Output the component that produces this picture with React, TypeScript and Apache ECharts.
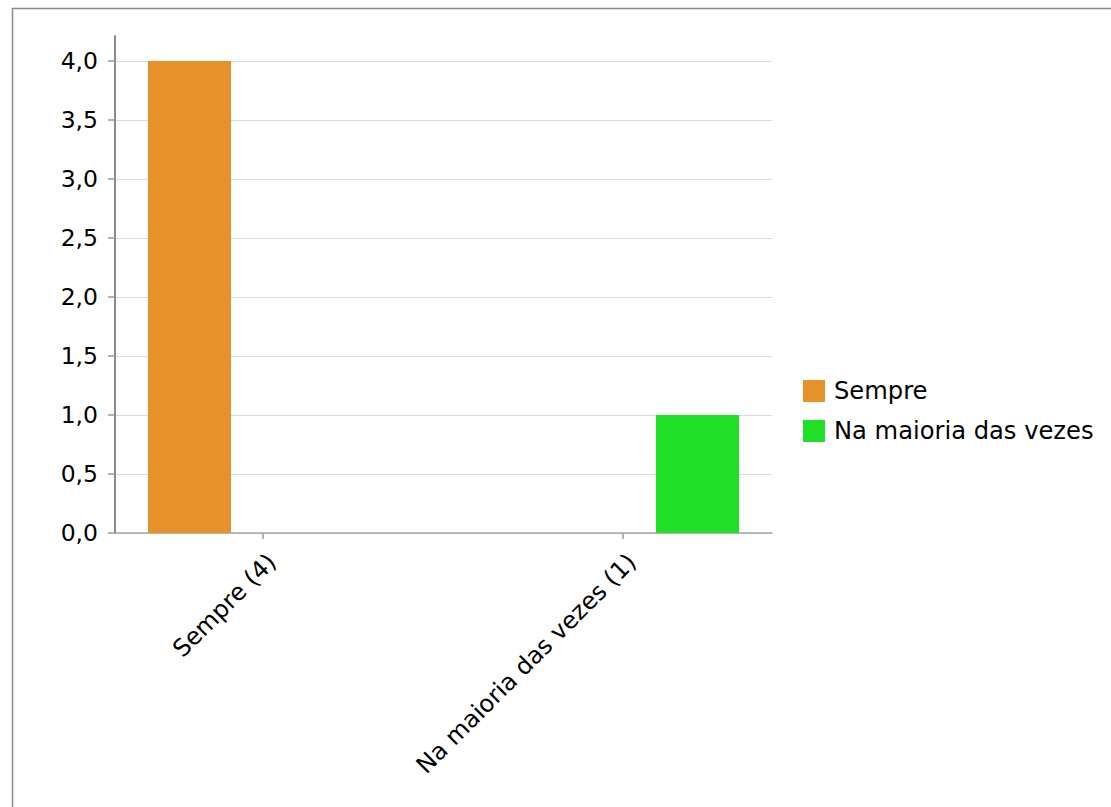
import React, { useEffect, useRef } from "react";
import * as echarts from "echarts";

const categories = ["Sempre (4)", "Na maioria das vezes (1)"];
const seriesNames = ["Sempre", "Na maioria das vezes"];
const sempreValues = [4, 0];
const maioriaValues = [0, 1];
const seriesColors = ["#E5922A", "#21DE27"];
const yMin = 0;
const yMax = 4;
const yInterval = 0.5;

const FONT = "DejaVu Sans";
const FS = 23.5;

export default function App() {
  const ref = useRef<HTMLDivElement>(null);
  useEffect(() => {
    if (!ref.current) return;
    const chart = echarts.init(ref.current, null, { renderer: "svg" });
    const option: any = {
      animation: false,
      backgroundColor: "#ffffff",
      textStyle: { fontFamily: FONT },
      graphic: [
        {
          type: "rect",
          shape: { x: 12.5, y: 8.5, width: 1300, height: 1000 },
          style: { fill: "none", stroke: "#8c8c8c", lineWidth: 1.5 },
          silent: true,
        },
      ],
      legend: {
        orient: "vertical",
        left: 803,
        top: 379,
        padding: 0,
        itemWidth: 22,
        itemHeight: 22,
        itemGap: 16,
        icon: "rect",
        textStyle: { fontSize: 24.2, color: "#000", fontFamily: FONT, padding: [0, 0, 0, 4] },
        data: seriesNames,
      },
      grid: [
        { left: 115, top: 61, width: 657, height: 472 },
        { left: 18.5, top: 61, width: 850, height: 472 },
        { left: 115, top: 36, width: 657, height: 497 },
        { left: 83, top: 61, width: 720, height: 472 },
        { left: 92, top: 61, width: 720, height: 472 },
      ],
      xAxis: [
        {
          gridIndex: 0,
          type: "category",
          data: categories,
          axisLine: { show: true, lineStyle: { color: "#a6a6a6", width: 1.5 } },
          axisTick: { show: false },
          axisLabel: { show: false },
          splitLine: { show: false },
        },
        { gridIndex: 1, type: "category", data: categories, show: false },
        { gridIndex: 2, type: "category", data: categories, show: false },
        {
          gridIndex: 3,
          type: "category",
          data: categories,
          axisLine: { show: false },
          axisTick: { show: true, alignWithLabel: true, length: 6, lineStyle: { color: "#999", width: 1.5 } },
          axisLabel: { show: false },
        },
        {
          gridIndex: 4,
          type: "category",
          data: categories,
          axisLine: { show: false },
          axisTick: { show: false },
          axisLabel: {
            rotate: 45,
            fontSize: 24,
            color: "#000",
            fontFamily: FONT,
            margin: 25,
            interval: 0,
          },
        },
      ],
      yAxis: [
        {
          gridIndex: 0,
          type: "value",
          min: yMin,
          max: yMax,
          interval: yInterval,
          axisLine: { show: false },
          axisTick: { show: true, length: 7, lineStyle: { color: "#999", width: 1.5 } },
          axisLabel: {
            fontSize: FS,
            color: "#000",
            fontFamily: FONT,
            margin: 17,
            formatter: (v: number) => v.toFixed(1).replace(".", ","),
          },
          splitLine: { show: true, lineStyle: { color: "#dadada", width: 1 } },
        },
        { gridIndex: 1, type: "value", min: yMin, max: yMax, show: false },
        {
          gridIndex: 2,
          type: "value",
          min: 0,
          max: 1,
          axisLine: { show: true, lineStyle: { color: "#8c8c8c", width: 2 } },
          axisTick: { show: false },
          axisLabel: { show: false },
          splitLine: { show: false },
        },
        { gridIndex: 3, type: "value", min: yMin, max: yMax, show: false },
        { gridIndex: 4, type: "value", min: yMin, max: yMax, show: false },
      ],
      series: [
        {
          name: seriesNames[0],
          type: "bar",
          xAxisIndex: 1,
          yAxisIndex: 1,
          data: sempreValues,
          barWidth: 83,
          barGap: "0%",
          itemStyle: { color: seriesColors[0] },
        },
        {
          name: seriesNames[1],
          type: "bar",
          xAxisIndex: 1,
          yAxisIndex: 1,
          data: maioriaValues,
          barWidth: 83,
          barGap: "0%",
          itemStyle: { color: seriesColors[1] },
        },
      ],
    };
    chart.setOption(option);
    return () => chart.dispose();
  }, []);
  return (
    <div
      ref={ref}
      style={{ position: "absolute", left: 0, top: 0, width: 1111, height: 807, background: "#fff" }}
    />
  );
}
